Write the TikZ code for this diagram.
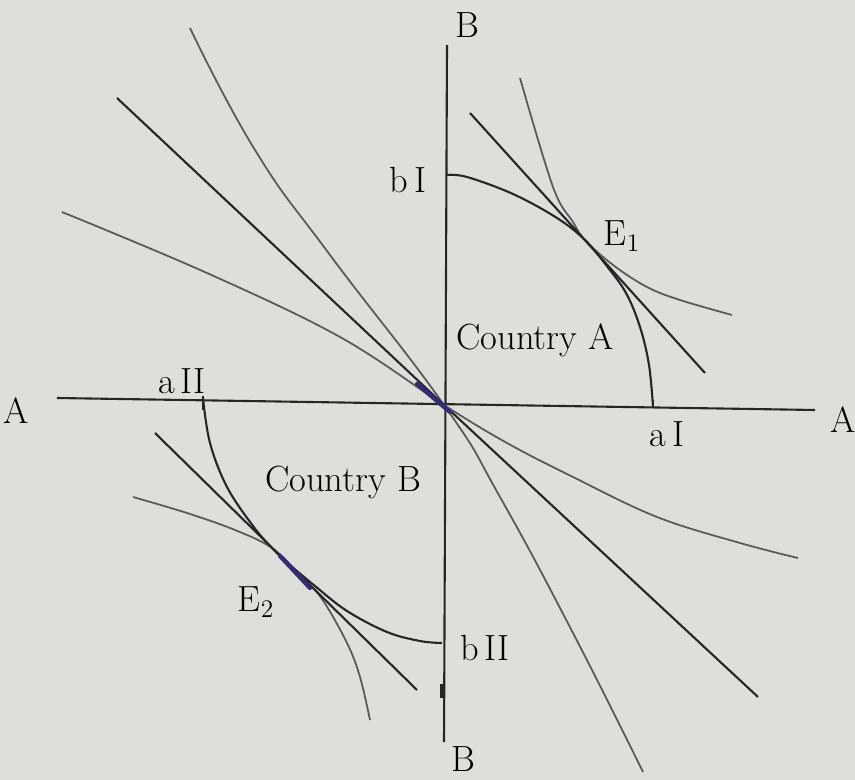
\documentclass[tikz,border=0pt]{standalone}
\definecolor{paper}{RGB}{222,222,218}
\definecolor{ink}{RGB}{48,44,120}
\tikzset{
  axis/.style={line width=1.2pt, black!85},
  ray/.style={line width=1.2pt, black!85},
  soft/.style={line width=1pt, black!65},
  lbl/.style={font=\huge, inner sep=1pt},
}
\begin{document}
\begin{tikzpicture}[x=0.02cm, y=-0.02cm, >=latex]
	\fill[paper] (0,0) rectangle (855,780);
	\useasboundingbox (0,0) rectangle (855,780);
	% axes
	\coordinate (Aw) at (57,398);
	\coordinate (Ae) at (815,410);
	\coordinate (Bn) at (447,45);
	\coordinate (Bs) at (444,742);
	\coordinate (O) at (444,405);
	\draw[axis] (Aw) -- (Ae);
	\draw[axis] (Bn) -- (Bs);
	\node[lbl] (labAw) at (16,411) {A};
	\node[lbl] (labAe) at (843,420) {A};
	\node[lbl] (labBn) at (467,25) {B};
	\node[lbl] (labBs) at (463,759) {B};
	% rays through the origin
	\coordinate (r1a) at (190,28);
	\coordinate (r1b) at (643,772);
	\coordinate (r2a) at (117,98);
	\coordinate (r2b) at (758,697);
	\coordinate (r3a) at (62,212);
	\coordinate (r3b) at (798,558);
	\draw[soft] plot[smooth, tension=0.8]
		coordinates {(r1a) (255,150) (330,255) (O) (500,497) (573,633) (r1b)};
	\draw[ray] (r2a) -- (O) -- (r2b);
	\draw[soft] plot[smooth, tension=0.6]
		coordinates {(r3a) (207,273) (340,337) (O) (507,443) (573,477)
				(657,517) (740,543) (r3b)};
	\draw[line width=2.4pt, ink, line cap=round] (417,384) -- (450,412);
	% country A
	\coordinate (bI) at (447,175);
	\coordinate (aI) at (653,407);
	\coordinate (E1) at (585,240);
	\draw[axis] (653,400) -- (aI);
	\draw[ray] plot[smooth, tension=0.6]
		coordinates {(bI) (467,177) (513,194) (557,218) (E1) (606,265)
				(626,293) (640,327) (649,365) (aI)};
	\draw[soft] plot[smooth, tension=0.6]
		coordinates {(520,78) (553,187) (573,222) (E1) (613,265) (647,287)
				(680,300) (732,315)};
	\coordinate (tA1) at (470,113);
	\coordinate (tA2) at (705,373);
	\draw[ray] (tA1) -- (tA2);
	\node[lbl] (labbI) at (408,180) {b\,I};
	\node[lbl] (labaI) at (667,434) {a\,I};
	\node[lbl] (labE1) at (622,236) {E$_1$};
	\node[lbl] (labCA) at (535,340) {Country A};
	% country B
	\coordinate (aII) at (203,398);
	\coordinate (bII) at (442,643);
	\coordinate (E2) at (272,548);
	\draw[axis] (203,396) -- (203,410);
	\draw[ray] plot[smooth, tension=0.6]
		coordinates {(aII) (210,443) (227,487) (253,526) (E2) (290,565)
				(315,586) (347,611) (387,632) (420,641) (bII)};
	\draw[soft] plot[smooth, tension=0.6]
		coordinates {(133,497) (187,513) (235,530) (E2) (300,575) (322,599)
				(347,643) (360,677) (370,720)};
	\coordinate (tB1) at (155,433);
	\coordinate (tB2) at (417,690);
	\draw[ray] (tB1) -- (tB2);
	\draw[line width=2.4pt, ink, line cap=round] (280,556) -- (310,588);
	\draw[line width=2.4pt, black!85] (442,684) -- (442,698);
	\node[lbl] (labaII) at (182,381) {a\,II};
	\node[lbl] (labbII) at (485,648) {b\,II};
	\node[lbl] (labE2) at (256,602) {E$_2$};
	\node[lbl] (labCB) at (343,482) {Country B};
\end{tikzpicture}
\end{document}
